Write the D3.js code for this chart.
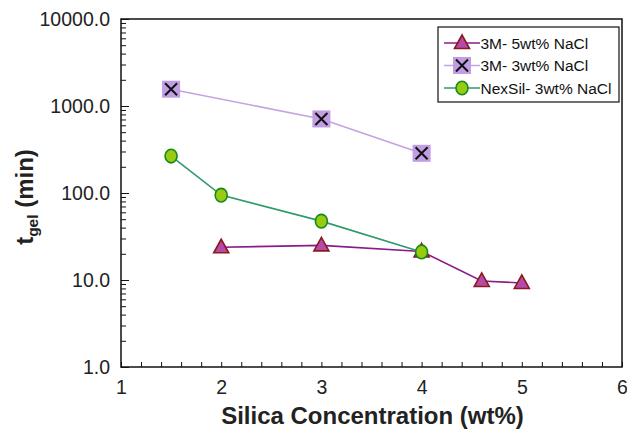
<!DOCTYPE html>
<html>
<head>
<meta charset="utf-8">
<script src="https://cdn.jsdelivr.net/npm/d3@7"></script>
<style>
  html, body { margin: 0; padding: 0; background: #fff; }
  svg { display: block; font-family: "Liberation Sans", Arial, Helvetica, sans-serif; }
</style>
</head>
<body>
<svg id="chart" width="627" height="435"></svg>
<script>
// Gel time versus silica concentration for three sol formulations
const seriesNames = ["3M- 5wt% NaCl", "3M- 3wt% NaCl", "NexSil- 3wt% NaCl"];

const m5Conc = [2, 3, 4, 4.6, 5];
const m5Tgel = [23.8, 25.0, 21.3, 9.75, 9.25];

const m3Conc = [1.5, 3, 4];
const m3Tgel = [1560, 710, 286];

const nexConc = [1.5, 2, 3, 4];
const nexTgel = [266, 94.5, 47.5, 21.0];

const xTicks = [1, 2, 3, 4, 5, 6];
const yTicks = [1, 10, 100, 1000, 10000];

const W = 627, H = 435;
const margin = { left: 121, right: 5, top: 19, bottom: 68 };
const svg = d3.select("#chart");

const x = d3.scaleLinear().domain([1, 6]).range([margin.left, W - margin.right]);
const y = d3.scaleLog().domain([1, 10000]).range([H - margin.bottom, margin.top]);

const x0 = x.range()[0], x1 = x.range()[1];
const y0 = y.range()[0], y1 = y.range()[1];

// Frame
svg.append("rect")
  .attr("x", x0).attr("y", y1)
  .attr("width", x1 - x0).attr("height", y0 - y1)
  .attr("fill", "none").attr("stroke", "#111").attr("stroke-width", 1.5);

// X axis: minor ticks every 0.2, pointing inward
const xMinor = d3.range(1, 6.0001, 0.2);
svg.append("g")
  .attr("transform", `translate(0,${y0})`)
  .call(d3.axisBottom(x).tickValues(xMinor).tickSize(-5).tickFormat(""))
  .call(g => g.select(".domain").remove())
  .call(g => g.selectAll("line").attr("stroke", "#111"));

svg.append("g")
  .attr("transform", `translate(0,${y0})`)
  .call(d3.axisBottom(x).tickValues(xTicks).tickSize(0).tickPadding(13).tickFormat(d3.format("d")))
  .call(g => g.select(".domain").remove())
  .call(g => g.selectAll("text")
    .attr("font-size", 19.5).attr("fill", "#222")
    .attr("font-family", "Liberation Sans, Arial, sans-serif"));

// Y axis: log ticks, minor 2..9 per decade, pointing inward
const yMinor = [];
for (let d = 1; d < 10000; d *= 10) for (let k = 2; k <= 9; k++) yMinor.push(d * k);
svg.append("g")
  .attr("transform", `translate(${x0},0)`)
  .call(d3.axisLeft(y).tickValues(yMinor).tickSize(-5).tickFormat(""))
  .call(g => g.select(".domain").remove())
  .call(g => g.selectAll("line").attr("stroke", "#111"));

svg.append("g")
  .attr("transform", `translate(${x0},0)`)
  .call(d3.axisLeft(y).tickValues(yTicks).tickSize(-8).tickPadding(11).tickFormat(d3.format(".1f")))
  .call(g => g.select(".domain").remove())
  .call(g => g.selectAll("line").attr("stroke", "#111"))
  .call(g => g.selectAll("text")
    .attr("font-size", 19.5).attr("fill", "#222")
    .attr("font-family", "Liberation Sans, Arial, sans-serif"));

// Axis titles
svg.append("text")
  .attr("x", (x0 + x1) / 2 + 1).attr("y", 424)
  .attr("text-anchor", "middle")
  .attr("font-size", 24).attr("font-weight", "bold").attr("fill", "#222")
  .text("Silica Concentration (wt%)");

const yt = svg.append("text")
  .attr("transform", `translate(33,197) rotate(-90)`)
  .attr("text-anchor", "middle")
  .attr("font-size", 24).attr("font-weight", "bold").attr("fill", "#222");
yt.append("tspan").text("t");
yt.append("tspan").attr("font-size", 15.5).attr("dy", 5).text("gel");
yt.append("tspan").attr("dy", -5).text(" (min)");

// Marker painters
const tri = (g, cx, cy) => g.append("path")
  .attr("d", `M${cx},${cy - 8}L${cx + 7.5},${cy + 5.5}L${cx - 7.5},${cy + 5.5}Z`)
  .attr("fill", "#b54aa8").attr("stroke", "#8a1a1e").attr("stroke-width", 1.6);
const sqx = (g, cx, cy) => {
  g.append("rect").attr("x", cx - 9).attr("y", cy - 8.5).attr("width", 18).attr("height", 17)
    .attr("fill", "#c19de3");
  g.append("path")
    .attr("d", `M${cx - 6},${cy - 6}L${cx + 6},${cy + 6}M${cx + 6},${cy - 6}L${cx - 6},${cy + 6}`)
    .attr("stroke", "#111").attr("stroke-width", 2);
};
const circ = (g, cx, cy) => g.append("ellipse")
  .attr("cx", cx).attr("cy", cy).attr("rx", 6).attr("ry", 6.8)
  .attr("fill", "#9acb13").attr("stroke", "#14891e").attr("stroke-width", 1.6);

const series = [
  { name: seriesNames[0], xs: m5Conc, ys: m5Tgel, line: "#8b1a8b", mark: tri },
  { name: seriesNames[1], xs: m3Conc, ys: m3Tgel, line: "#c6a2e2", mark: sqx },
  { name: seriesNames[2], xs: nexConc, ys: nexTgel, line: "#2f9a6a", mark: circ }
];

const lineGen = d3.line().x(d => x(d[0])).y(d => y(d[1]));
const plot = svg.append("g");
series.forEach(s => {
  const pts = s.xs.map((v, i) => [v, s.ys[i]]);
  plot.append("path").datum(pts).attr("d", lineGen)
    .attr("fill", "none").attr("stroke", s.line).attr("stroke-width", 1.6);
  const mg = plot.append("g");
  pts.forEach(p => s.mark(mg, x(p[0]), y(p[1])));
});

// Legend
const lg = svg.append("g").attr("transform", "translate(438,27)");
lg.append("rect").attr("width", 181).attr("height", 75)
  .attr("fill", "#fff").attr("stroke", "#111").attr("stroke-width", 1.2);
series.forEach((s, i) => {
  const cy = 16 + i * 22.5;
  lg.append("line").attr("x1", 6).attr("x2", 42).attr("y1", cy).attr("y2", cy)
    .attr("stroke", s.line).attr("stroke-width", 1.6);
  s.mark(lg, 24, cy);
  lg.append("text").attr("x", 42.5).attr("y", cy + 5.5)
    .attr("font-size", 15.5).attr("fill", "#111").text(s.name);
});
</script>
</body>
</html>
